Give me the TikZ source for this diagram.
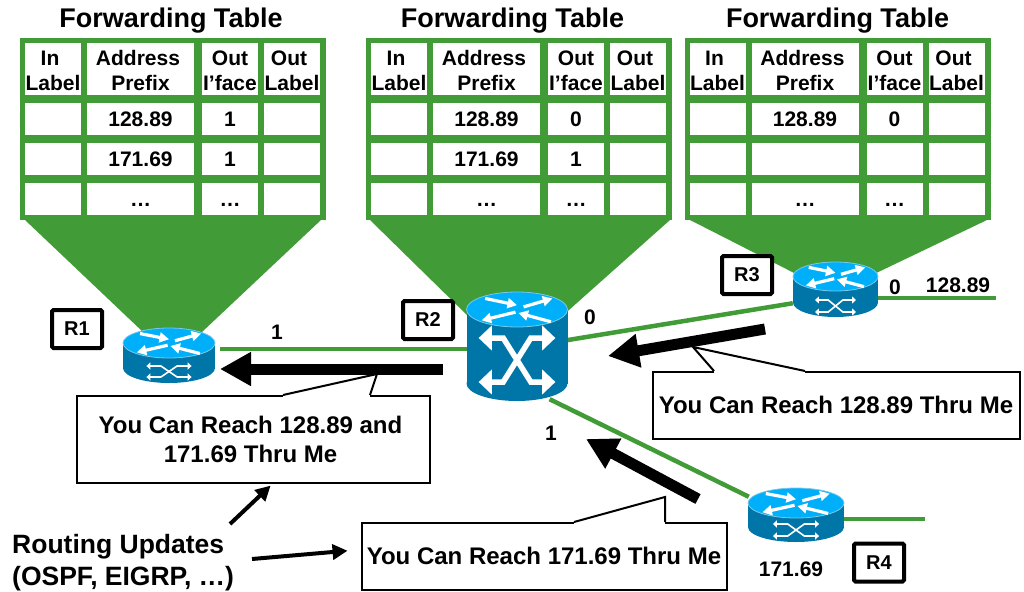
\documentclass[tikz,border=0pt]{standalone}
\usepackage{fontspec}
\setmainfont{Liberation Sans}
\usetikzlibrary{arrows.meta}

\definecolor{tablegreen}{RGB}{65,155,55}
\definecolor{routertop}{RGB}{0,175,250}
\definecolor{routerbody}{RGB}{0,118,168}
\definecolor{routerrim}{RGB}{120,200,235}

% cx, top, half width, height, ellipse radius, arrow reach, upper y, lower y, arrow width
\newcommand{\routericon}[9]{
  \begin{scope}[shift={(#1,#2)}]
    \fill[routerbody] (-#3,#5) rectangle (#3,#4-#5);
    \fill[routerbody] (0,#4-#5) ellipse [x radius=#3pt, y radius=#5pt];
    \draw[routerrim, fill=routertop, line width=0.8pt] (0,#5) ellipse [x radius=#3pt, y radius=#5pt];
    \begin{scope}[shift={(0,#5)}, x=#3pt, y=-#5pt]
      \draw[toparrow] (-0.63,-0.63) -- (0,-0.25);
      \draw[toparrow] (0.13,-0.15) -- (0.7,-0.63);
      \draw[toparrow] (-0.03,0.15) -- (-0.7,0.62);
      \draw[toparrow] (0.67,0.70) -- (0.03,0.2);
    \end{scope}
    \begin{scope}[x=#3pt]
      \draw[crossarrow, line width=#9pt] (-#6,#7) -- (-0.36*#6,#7) -- (0.36*#6,#8) -- (#6,#8);
      \draw[crossarrow, line width=#9pt] (-#6,#8) -- (-0.36*#6,#8) -- (0.36*#6,#7) -- (#6,#7);
    \end{scope}
  \end{scope}
}

% name, x offset, out l'face of 128.89, address of second row, out l'face of second row
\newcommand{\fwdtable}[5]{
  \begin{scope}[shift={(#2,0)}]
    \fill[tablegreen] (20,38) rectangle (326,220);
    \node[cell, minimum width=56, minimum height=52] (#1in) at (53,69) {};
    \node[cell, minimum width=107, minimum height=52] (#1addr) at (140.5,69) {};
    \node[cell, minimum width=56, minimum height=52] (#1oif) at (230,69) {};
    \node[cell, minimum width=56, minimum height=52] (#1olab) at (292,69) {};
    \node[cell, fill=none] (#1intext) at (53,70.5) {In\hspace*{6pt}\\Label};
    \node[cell, fill=none] (#1addrtext) at (140.5,70.5) {Address\hspace*{5pt}\\Prefix};
    \node[cell, fill=none] (#1oiftext) at (230,70.5) {Out\\I’face};
    \node[cell, fill=none] (#1olabtext) at (292,70.5) {Out\hspace*{6pt}\\Label};
    \foreach \rownum/\ypos/\addr/\oif in {1/119/128.89/#3, 2/159/#4/#5, 3/199/…/…}{
      \node[cell, minimum width=56, minimum height=32] (#1in\rownum) at (53,\ypos) {};
      \node[cell, minimum width=107, minimum height=32, text height=15] (#1addr\rownum) at (140.5,\ypos) {\addr};
      \node[cell, minimum width=56, minimum height=32, text height=15] (#1oif\rownum) at (230,\ypos) {\oif};
      \node[cell, minimum width=56, minimum height=32] (#1olab\rownum) at (292,\ypos) {};
    }
  \end{scope}
}

% first base point, tip, second base point
\newcommand{\msgtail}[3]{
  \fill[white] (#1) -- (#2) -- (#3) -- cycle;
  \draw[white, line width=3pt] (#1) -- (#3);
  \draw[black, line width=2pt] (#1) -- (#2) -- (#3);
}

\begin{document}
\begin{tikzpicture}[x=1pt, y=-1pt]
   \tikzstyle{cell}=[fill=white, inner sep=0pt, align=center, font=\fontsize{21}{25}\selectfont\bfseries]
   \tikzstyle{tabletitle}=[inner sep=0pt, font=\fontsize{27}{30}\selectfont\bfseries]
   \tikzstyle{funnel}=[fill=tablegreen]
   \tikzstyle{routernode}=[inner sep=0pt, minimum height=60]
   \tikzstyle{toparrow}=[white, line width=3.2pt, -{Triangle[length=9.5pt, width=10pt]}]
   \tikzstyle{crossarrow}=[white, {Triangle[length=0pt 2.4 1, width=0pt 4.4 1]}-{Triangle[length=0pt 2.4 1, width=0pt 4.4 1]}]
   \tikzstyle{link}=[tablegreen, line width=4.5pt]
   \tikzstyle{linktext}=[inner sep=0pt, font=\fontsize{21}{25}\selectfont\bfseries]
   \tikzstyle{routertag}=[draw, fill=white, line width=4pt, rounded corners=1.5pt, inner sep=0pt, minimum width=50, minimum height=38, font=\fontsize{20}{24}\selectfont\bfseries]
   \tikzstyle{msgbox}=[draw, fill=white, line width=2pt, inner sep=0pt, align=center, font=\fontsize{24}{29}\selectfont\bfseries]
   \tikzstyle{update}=[line width=11pt, -{Triangle[length=31pt, width=32pt]}]
   \tikzstyle{pointer}=[line width=4pt, -{Triangle[length=15pt, width=15pt]}]

\useasboundingbox (0,0) rectangle (1024,591);

\node[tabletitle] (title1) at (171,20.5) {Forwarding Table};
\node[tabletitle] (title2) at (512.5,20.5) {Forwarding Table};
\node[tabletitle] (title3) at (837.5,20.5) {Forwarding Table};

\fill[funnel] (25,220) -- (143,332) -- (202,332) -- (321,220) -- cycle;
\fill[funnel] (370,220) -- (470,318) -- (560,318) -- (670,220) -- cycle;
\fill[funnel] (690,220) -- (800,276) -- (870,276) -- (987,220) -- cycle;

\fwdtable{a}{0}{1}{171.69}{1}
\fwdtable{b}{346}{0}{171.69}{1}
\fwdtable{c}{664.5}{0}{}{}

\node[routernode, minimum width=102] (r1) at (169,349) {};
\node[routernode, minimum width=100, minimum height=100] (r2) at (517,349) {};
\node[routernode, minimum width=85] (r3) at (835.5,298) {};
\node[routernode, minimum width=95] (r4) at (796.5,519) {};
\coordinate (end3) at (996,298);
\coordinate (end4) at (925,519);

\draw[link] (r1.east) -- (r2.west);
\draw[link] (r2.10) -- (r3.187);
\draw[link] (r2.-57) -- (r4.155);
\draw[link] (r3.east) -- (end3);
\draw[link] (r4.east) -- (end4);

\routericon{169}{328}{46}{55}{15}{0.49}{38}{49}{1.6}
\routericon{517}{292}{50.5}{109}{17.5}{0.76}{46}{90}{5.5}
\routericon{835.5}{262}{42.5}{55}{14.5}{0.48}{38}{50}{1.6}
\routericon{796}{488}{48}{54}{15}{0.48}{36}{48}{1.6}

\node[routertag] (tag1) at (77,329) {R1};
\node[routertag] (tag2) at (428,320) {R2};
\node[routertag] (tag3) at (747,275) {R3};
\node[routertag] (tag4) at (879,562.5) {R4};

\node[linktext] (port1) at (277,332) {1};
\node[linktext] (port2) at (590,317) {0};
\node[linktext] (port3) at (551,433) {1};
\node[linktext] (port4) at (895,287) {0};
\node[linktext] (net1) at (958,285) {128.89};
\node[linktext] (net2) at (791,569) {171.69};

\node[msgbox, minimum width=353, minimum height=87] (msg1) at (253,439) {You Can Reach 128.89 and\hspace*{5pt}\\171.69 Thru Me\hspace*{5pt}};
\node[msgbox, minimum width=367, minimum height=67] (msg2) at (836,405) {You Can Reach 128.89 Thru Me};
\node[msgbox, minimum width=365, minimum height=67] (msg3) at (544,556) {You Can Reach 171.69 Thru Me};
\msgtail{283,395}{377,374}{370,395}
\msgtail{714,371}{693,347}{805,371}
\msgtail{574,522}{665,497}{665,522}

\coordinate (flow1a) at (443,369);
\coordinate (flow1b) at (220,369);
\coordinate (flow2a) at (765,329);
\coordinate (flow2b) at (608,356);
\coordinate (flow3a) at (698,499);
\coordinate (flow3b) at (586,439);
\draw[update] (flow1a) -- (flow1b);
\draw[update] (flow2a) -- (flow2b);
\draw[update] (flow3a) -- (flow3b);

\node[inner sep=0pt, anchor=west, align=left, font=\fontsize{26.5}{32}\selectfont\bfseries] (updates) at (12,563) {Routing Updates\\(OSPF, EIGRP, …)};
\coordinate (from1) at (230,524);
\coordinate (from2) at (252,559);
\draw[pointer, shorten >=3pt] (from1) -- (msg1.-66);
\draw[pointer, shorten >=13pt] (from2) -- (msg3.178);

\end{tikzpicture}
\end{document}
